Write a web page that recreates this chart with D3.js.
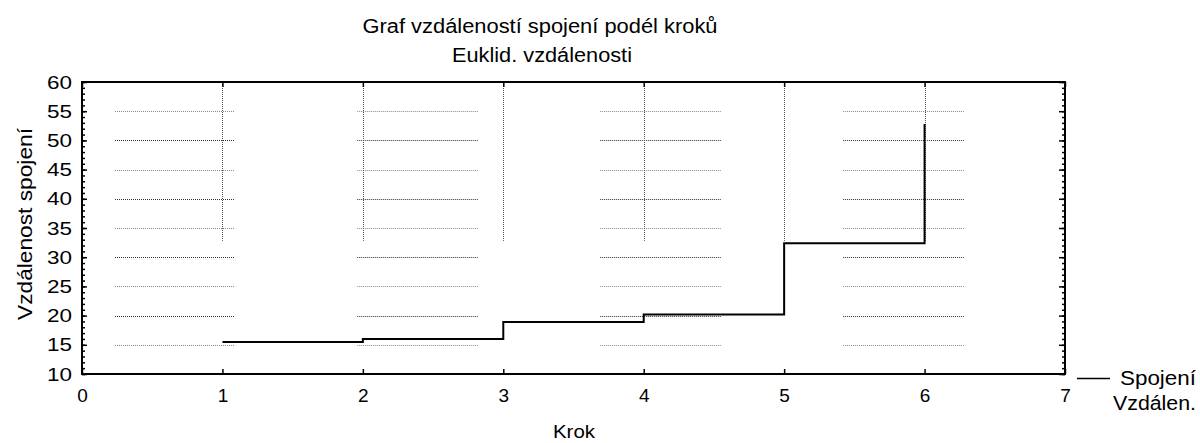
<!DOCTYPE html>
<html><head><meta charset="utf-8">
<script src="https://cdn.jsdelivr.net/npm/d3@7"></script>
<style>body{margin:0;background:#fff}svg{display:block}text{font-family:"Liberation Sans",Arial,sans-serif;fill:#000}</style>
</head><body><svg id="c" width="1200" height="443"></svg>
<script>
const steps = [1, 2, 3, 4, 5, 6];
const distances = [15.5, 16.0, 18.9, 20.2, 32.4, 52.8];
const xTicks = [0, 1, 2, 3, 4, 5, 6, 7];
const yTicks = [10, 15, 20, 25, 30, 35, 40, 45, 50, 55, 60];
const gridValues = [15, 20, 25, 30, 35, 40, 45, 50, 55];
const gridSegments = [[0.235, 1.09], [1.96, 2.82], [3.69, 4.55], [5.42, 6.28]];
const vGridSteps = [1, 2, 3, 4, 5, 6];
const vGridFrom = 32.8;
const title1 = "Graf vzdáleností spojení podél kroků";
const title2 = "Euklid. vzdálenosti";
const xLabel = "Krok";
const yLabel = "Vzdálenost spojení";
const legend = ["Spojení", "Vzdálen."];

const FF = '"Liberation Sans",Arial,sans-serif';
const svg = d3.select("#c");
const L = 82, R = 1065, T = 82, B = 374;
const x = d3.scaleLinear().domain([0, 7]).range([L, R]);
const y = d3.scaleLinear().domain([10, 60]).range([B, T]);

// horizontal grid segments
gridValues.forEach((v, i) => {
  gridSegments.forEach(s => {
    svg.append("line").attr("x1", x(s[0])).attr("x2", x(s[1]))
      .attr("y1", Math.round(y(v)) + 0.5).attr("y2", Math.round(y(v)) + 0.5)
      .attr("stroke", i % 2 === 0 ? "#888" : "#333").attr("stroke-width", 1)
      .attr("stroke-dasharray", "1,1");
  });
});
// vertical grid
vGridSteps.forEach(s => {
  svg.append("line").attr("x1", Math.round(x(s)) + 0.5).attr("x2", Math.round(x(s)) + 0.5)
    .attr("y1", T).attr("y2", y(vGridFrom))
    .attr("stroke", "#555").attr("stroke-width", 1).attr("stroke-dasharray", "1,1");
});

// step line
const line = d3.line().x((d, i) => x(steps[i])).y(d => y(d)).curve(d3.curveStepAfter);
svg.append("path").datum(distances).attr("d", line)
  .attr("fill", "none").attr("stroke", "#000").attr("stroke-width", 2);

// frame
svg.append("rect").attr("x", L).attr("y", T).attr("width", R - L).attr("height", B - T)
  .attr("fill", "none").attr("stroke", "#000").attr("stroke-width", 2);

// tick marks
const minor = d3.range(10, 61, 1);
function ticksG(tx, ty, axis) {
  const g = svg.append("g").attr("transform", `translate(${tx},${ty})`).call(axis);
  g.select(".domain").remove();
  g.selectAll(".tick line").attr("stroke-width", 1.5);
  return g;
}
ticksG(L, 0, d3.axisRight(y).tickValues(minor).tickSize(3).tickFormat(""));
ticksG(L, 0, d3.axisRight(y).tickValues(yTicks).tickSize(5).tickFormat(""));
ticksG(R, 0, d3.axisLeft(y).tickValues(minor).tickSize(3).tickFormat(""));
ticksG(R, 0, d3.axisLeft(y).tickValues(yTicks).tickSize(6).tickFormat(""));
ticksG(0, B, d3.axisTop(x).tickValues(xTicks).tickSize(5).tickFormat(""));
ticksG(0, T, d3.axisBottom(x).tickValues(xTicks).tickSize(5).tickFormat(""));

// y tick labels
const yl = svg.append("g").attr("transform", `translate(${L},0)`)
  .call(d3.axisLeft(y).tickValues(yTicks).tickSize(0).tickPadding(10).tickFormat(d3.format("d")));
yl.select(".domain").remove();
yl.selectAll("text").style("font-size", "19px").style("font-family", FF).attr("fill", "#000")
  .attr("textLength", 25).attr("lengthAdjust", "spacingAndGlyphs");

// x tick labels
const xl = svg.append("g").attr("transform", `translate(0,${B})`)
  .call(d3.axisBottom(x).tickValues(xTicks).tickSize(0).tickPadding(15).tickFormat(d3.format("d")));
xl.select(".domain").remove();
xl.selectAll("text").style("font-size", "19px").style("font-family", FF).attr("fill", "#000");

// titles
svg.append("text").attr("x", 540).attr("y", 33).attr("text-anchor", "middle").style("font-size", "19.5px")
  .attr("textLength", 355).attr("lengthAdjust", "spacingAndGlyphs").text(title1);
svg.append("text").attr("x", 542).attr("y", 62).attr("text-anchor", "middle").style("font-size", "19.5px")
  .attr("textLength", 180).attr("lengthAdjust", "spacingAndGlyphs").text(title2);
svg.append("text").attr("x", 574).attr("y", 438).attr("text-anchor", "middle").style("font-size", "19px")
  .attr("textLength", 42).attr("lengthAdjust", "spacingAndGlyphs").text(xLabel);
svg.append("text").attr("transform", "translate(32,224) rotate(-90)").attr("text-anchor", "middle").style("font-size", "20px")
  .attr("textLength", 192).attr("lengthAdjust", "spacingAndGlyphs").text(yLabel);

// legend
svg.append("line").attr("x1", 1077).attr("x2", 1110).attr("y1", 378.5).attr("y2", 378.5).attr("stroke", "#000").attr("stroke-width", 1.5);
svg.append("text").attr("x", 1120).attr("y", 385).style("font-size", "20px")
  .attr("textLength", 76).attr("lengthAdjust", "spacingAndGlyphs").text(legend[0]);
svg.append("text").attr("x", 1113).attr("y", 410).style("font-size", "20px")
  .attr("textLength", 83).attr("lengthAdjust", "spacingAndGlyphs").text(legend[1]);
</script></body></html>
